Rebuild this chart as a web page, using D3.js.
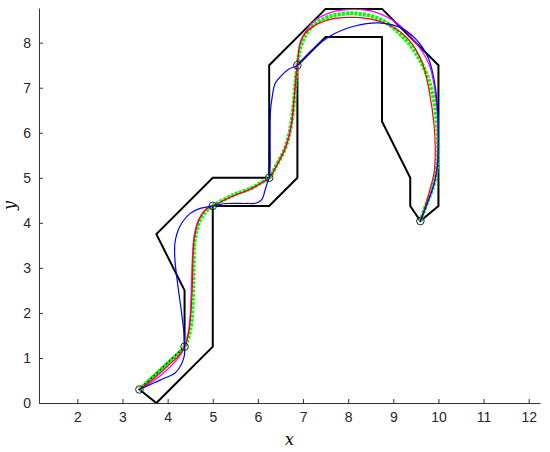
<!DOCTYPE html>
<html>
<head>
<meta charset="utf-8">
<script src="https://cdn.jsdelivr.net/npm/d3@7"></script>
<style>
  body { margin: 0; background: #fff; }
  svg { display: block; }
</style>
</head>
<body>
<div id="chart"></div>
<script>
"use strict";

// corridor outline
var corridor = [
    [3.75, 0], [3.375, 0.3], [4.375, 1.25], [4.375, 2.5], [3.75, 3.75], [5, 5],
    [6.25, 5], [6.25, 7.5], [7.5, 8.75], [8.75, 8.75], [10, 7.5], [10, 4.375],
    [9.6, 4.04], [9.375, 4.375], [9.375, 5], [8.75, 6.25], [8.75, 8.125],
    [7.5, 8.125], [6.875, 7.5], [6.875, 5], [6.25, 4.375], [5, 4.375],
    [5, 1.25], [3.75, 0]
];

var waypoints = [
    [3.375, 0.3], [4.375, 1.25], [5, 4.375], [6.25, 5], [6.875, 7.5], [9.6, 4.04]
];

var greenPath = [
    [3.375, 0.3], [3.7, 0.6], [4.05, 0.92], [4.3, 1.15], [4.375, 1.25], [4.5, 1.62],
    [4.56, 2.36], [4.57, 2.95], [4.61, 3.69], [4.72, 4.06], [4.87, 4.28], [5, 4.375],
    [5.46, 4.62], [5.83, 4.76], [6.05, 4.88], [6.25, 5], [6.4, 5.26], [6.6, 5.65],
    [6.73, 6.15], [6.8, 6.72], [6.84, 7.2], [6.875, 7.5], [6.97, 7.98], [7.19, 8.35],
    [7.56, 8.57], [8.15, 8.65], [8.75, 8.5], [9.24, 8.1], [9.6, 7.6], [9.87, 6.87],
    [9.98, 6.0], [9.99, 5.5], [9.96, 5.17], [9.88, 4.8], [9.74, 4.43], [9.6, 4.04]
];

var magentaPath = [
    [3.375, 0.3], [3.7, 0.5], [4.0, 0.75], [4.25, 1.02], [4.375, 1.25], [4.46, 1.58],
    [4.51, 2.1], [4.53, 2.7], [4.55, 3.2], [4.59, 3.7], [4.68, 4.05], [4.84, 4.3],
    [5, 4.375], [5.46, 4.6], [5.83, 4.74], [6.07, 4.88], [6.25, 5], [6.41, 5.27],
    [6.6, 5.66], [6.73, 6.15], [6.8, 6.72], [6.84, 7.2], [6.875, 7.5], [6.94, 7.98],
    [7.19, 8.43], [7.64, 8.68], [8.15, 8.74], [8.6, 8.68], [9.1, 8.42], [9.5, 8.0],
    [9.8, 7.5], [9.95, 6.72], [9.99, 6.0], [9.98, 5.4], [9.92, 4.95], [9.79, 4.55],
    [9.6, 4.04]
];

var redPath = [
    [3.375, 0.3], [3.7, 0.55], [4.0, 0.82], [4.27, 1.08], [4.375, 1.25], [4.47, 1.58],
    [4.52, 2.1], [4.55, 2.7], [4.56, 3.2], [4.6, 3.7], [4.69, 4.05], [4.85, 4.3],
    [5, 4.375], [5.46, 4.6], [5.83, 4.75], [6.06, 4.88], [6.25, 5], [6.42, 5.28],
    [6.61, 5.66], [6.74, 6.15], [6.8, 6.72], [6.84, 7.2], [6.875, 7.5], [6.97, 8.1],
    [7.27, 8.39], [7.71, 8.54], [8.15, 8.56], [8.6, 8.5], [9.04, 8.32], [9.41, 7.98],
    [9.66, 7.5], [9.8, 6.9], [9.9, 6.2], [9.93, 5.6], [9.9, 5.1], [9.8, 4.7],
    [9.7, 4.35], [9.6, 4.04]
];

var bluePath = [
    [3.375, 0.3], [3.7, 0.45], [3.95, 0.56], [4.16, 0.66], [4.3, 0.85], [4.37, 1.05],
    [4.375, 1.25], [4.37, 1.47], [4.31, 1.99], [4.24, 2.51], [4.19, 2.9], [4.16, 3.2],
    [4.16, 3.54], [4.21, 3.77], [4.31, 3.99], [4.5, 4.21], [4.72, 4.32], [5, 4.375],
    [5.31, 4.43], [5.75, 4.43], [5.97, 4.44], [6.09, 4.52], [6.16, 4.73], [6.22, 4.92],
    [6.25, 5], [6.27, 5.3], [6.27, 6.0], [6.28, 6.5], [6.31, 6.75], [6.38, 7.09],
    [6.53, 7.28], [6.68, 7.41], [6.875, 7.5], [7.19, 7.83], [7.64, 8.17], [8.15, 8.37],
    [8.67, 8.44], [9.12, 8.35], [9.49, 8.09], [9.78, 7.65], [9.93, 7.02], [9.99, 6.35],
    [10.0, 5.8], [9.98, 5.3], [9.9, 4.85], [9.76, 4.45], [9.6, 4.04]
];

var xTicks = [2, 3, 4, 5, 6, 7, 8, 9, 10, 11, 12];
var yTicks = [0, 1, 2, 3, 4, 5, 6, 7, 8];

var width = 550, height = 452;
var axisColor = "#333333";

var svg = d3.select("#chart").append("svg")
    .attr("width", width)
    .attr("height", height);

var xScale = d3.scaleLinear().domain([1.15, 12.25]).range([39, 540]);
var yScale = d3.scaleLinear().domain([0, 8.77]).range([403, 8]);

function getLineMaker(curve) {
    return d3.line()
        .curve(curve)
        .x(function(d) { return xScale(d[0]); })
        .y(function(d) { return yScale(d[1]); });
};

var straight = getLineMaker(d3.curveLinear);
var smooth = getLineMaker(d3.curveCatmullRom.alpha(0.5));

// corridor
svg.append("path")
    .attr("d", straight(corridor))
    .attr("fill", "none")
    .attr("stroke", "#000")
    .attr("stroke-width", 2)
    .attr("stroke-linejoin", "miter");

// trajectories
svg.append("path")
    .attr("d", smooth(greenPath))
    .attr("fill", "none")
    .attr("stroke", "#00ff00")
    .attr("stroke-width", 4)
    .attr("stroke-dasharray", "3,1.2");

svg.append("path")
    .attr("d", smooth(magentaPath))
    .attr("fill", "none")
    .attr("stroke", "#ff00ff")
    .attr("stroke-width", 1.2);

svg.append("path")
    .attr("d", smooth(redPath))
    .attr("fill", "none")
    .attr("stroke", "#ff0000")
    .attr("stroke-width", 1.2);

svg.append("path")
    .attr("d", smooth(bluePath))
    .attr("fill", "none")
    .attr("stroke", "#0000ff")
    .attr("stroke-width", 1.2);

svg.selectAll("circle.wp")
    .data(waypoints)
    .enter().append("circle")
    .attr("class", "wp")
    .attr("cx", function(d) { return xScale(d[0]); })
    .attr("cy", function(d) { return yScale(d[1]); })
    .attr("r", 3.8)
    .attr("fill", "none")
    .attr("stroke", "#222")
    .attr("stroke-width", 1);

// axes
var xAxis = svg.append("g")
    .attr("transform", "translate(0," + yScale(0) + ")")
    .call(d3.axisBottom(xScale).tickValues(xTicks).tickSizeInner(-4).tickSizeOuter(0).tickPadding(9));

var yAxis = svg.append("g")
    .attr("transform", "translate(" + xScale(1.15) + ",0)")
    .call(d3.axisLeft(yScale).tickValues(yTicks).tickSizeInner(-4).tickSizeOuter(0).tickPadding(8));

[xAxis, yAxis].forEach(function(ax) {
    ax.select(".domain").attr("stroke", axisColor).attr("stroke-width", 1);
    ax.selectAll(".tick line").attr("stroke", axisColor).attr("stroke-width", 1);
    ax.selectAll(".tick text")
        .attr("fill", "#262626")
        .style("font-family", "'Liberation Sans', Arial, sans-serif")
        .style("font-size", "14px");
});

svg.append("text")
    .attr("x", (xScale.range()[0] + xScale.range()[1]) / 2)
    .attr("y", 445)
    .attr("text-anchor", "middle")
    .style("font-family", "'DejaVu Serif', 'Liberation Serif', serif")
    .style("font-style", "italic")
    .style("font-size", "16px")
    .attr("fill", "#000")
    .text("x");

svg.append("text")
    .attr("transform", "translate(15," + (yScale.range()[0] + yScale.range()[1]) / 2 + ") rotate(-90)")
    .attr("text-anchor", "middle")
    .style("font-family", "'DejaVu Serif', 'Liberation Serif', serif")
    .style("font-style", "italic")
    .style("font-size", "16px")
    .attr("fill", "#000")
    .text("y");
</script>
</body>
</html>
